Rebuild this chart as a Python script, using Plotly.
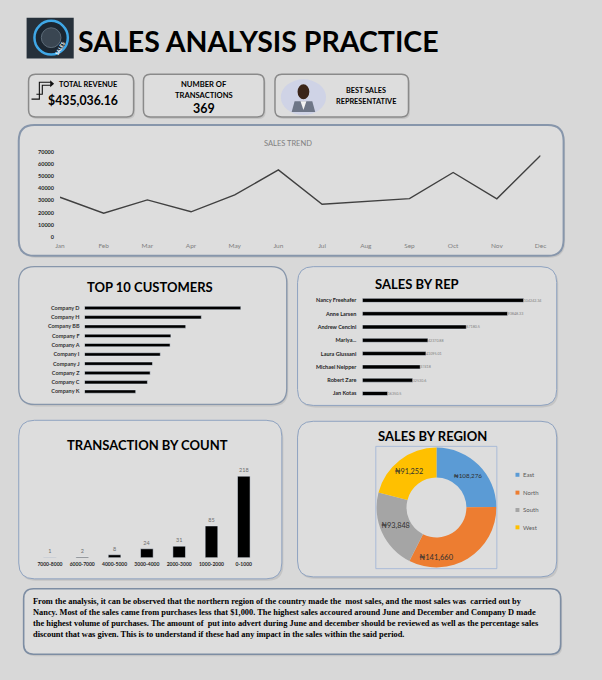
import plotly.graph_objects as go

W, H = 602, 680
BG = '#d8d8d8'
PANEL = '#dddddd'
FONT = 'Lato'

# ---- data ----
months = ['Jan', 'Feb', 'Mar', 'Apr', 'May', 'Jun', 'Jul', 'Aug', 'Sep', 'Oct', 'Nov', 'Dec']
monthly_sales = [32700, 19700, 30500, 20800, 34600, 55100, 27000, 29500, 31600, 53000, 31400, 66800]
trend_ticks = [0, 10000, 20000, 30000, 40000, 50000, 60000, 70000]

customers = ['Company D', 'Company H', 'Company BB', 'Company F', 'Company A',
             'Company I', 'Company J', 'Company Z', 'Company C', 'Company K']
customer_sales = [40000, 29900, 25900, 22100, 21900, 19400, 17400, 16800, 16100, 13100]

reps = ['Nancy Freehafer', 'Anne Larsen', 'Andrew Cencini', 'Mariya...',
        'Laura Giussani', 'Michael Neipper', 'Robert Zare', 'Jan Kotas']
rep_sales = [104242.34, 93848.33, 67180.5, 42370.88, 41095.01, 37418, 32530.6, 16350.5]

count_bins = ['7000-8000', '6000-7000', '4000-5000', '3000-4000', '2000-3000', '1000-2000', '0-1000']
count_values = [1, 2, 8, 24, 31, 85, 218]

regions = ['East', 'North', 'South', 'West']
region_sales = [108276, 141660, 93848, 91252]
region_colors = ['#5b9bd5', '#ed7d31', '#a5a5a5', '#ffc000']

total_revenue = '$435,036.16'
n_transactions = '369'

summary_lines = [
    'From the analysis, it can be observed that the northern region of the country made the  most sales, and the most sales was  carried out by',
    'Nancy. Most of the sales came from purchases less that $1,000. The highest sales accoured around June and December and Company D made',
    'the highest volume of purchases. The amount of  put into advert during June and december should be reviewed as well as the percentage sales',
    'discount that was given. This is to understand if these had any impact in the sales within the said period.',
]


# pixel -> paper helpers
def px(x):
    return x / W


def py(y):
    return 1 - y / H


def rrect_path(x0, y0, x1, y1, r):
    p = lambda x, y: f'{px(x):.5f},{py(y):.5f}'
    return (f'M {p(x0 + r, y0)} L {p(x1 - r, y0)} Q {p(x1, y0)} {p(x1, y0 + r)} '
            f'L {p(x1, y1 - r)} Q {p(x1, y1)} {p(x1 - r, y1)} '
            f'L {p(x0 + r, y1)} Q {p(x0, y1)} {p(x0, y1 - r)} '
            f'L {p(x0, y0 + r)} Q {p(x0, y0)} {p(x0 + r, y0)} Z')


shapes = []
annotations = []


def panel(x0, y0, x1, y1, r, border, lw):
    shapes.append(dict(type='path', path=rrect_path(x0 + 1.5, y0 + 2, x1 + 1.5, y1 + 2, r),
                       xref='paper', yref='paper', fillcolor='#b4b4b4', opacity=0.55,
                       line=dict(width=0), layer='below'))
    shapes.append(dict(type='path', path=rrect_path(x0, y0, x1, y1, r), xref='paper', yref='paper',
                       fillcolor=PANEL, line=dict(color=border, width=lw), layer='below'))


def label(x, y, text, size, color='#000000', bold=True, family=FONT, xanchor='center'):
    annotations.append(dict(x=px(x), y=py(y), xref='paper', yref='paper', text=text, showarrow=False,
                            xanchor=xanchor, yanchor='middle', align='left',
                            font=dict(family=family, size=size, color=color,
                                      weight='bold' if bold else 'normal')))


# ---- header ----
shapes.append(dict(type='rect', x0=px(22), x1=px(70), y0=py(56), y1=py(15), xref='paper', yref='paper',
                   fillcolor='#26303a', line=dict(width=0)))
shapes.append(dict(type='circle', x0=px(30), x1=px(64), y0=py(52), y1=py(18), xref='paper', yref='paper',
                   fillcolor='#1b2631', line=dict(color='#3fa7e6', width=2.5)))
shapes.append(dict(type='circle', x0=px(37), x1=px(57), y0=py(45), y1=py(25), xref='paper', yref='paper',
                   fillcolor='#3a4652', line=dict(color='#5c6b78', width=1)))
annotations.append(dict(x=px(47), y=py(35), xref='paper', yref='paper', text='SALES', showarrow=False,
                        textangle=-60, font=dict(family=FONT, size=5, color='white', weight='bold')))
label(72, 38, 'SALES ANALYSIS PRACTICE', 28.5, xanchor='left')

# KPI boxes
panel(24, 72, 131, 115, 7, '#8a8a8a', 1.5)
panel(141, 72, 264, 115, 7, '#8a8a8a', 1.5)
panel(275, 72, 411, 115, 7, '#8a8a8a', 1.5)

shapes.append(dict(type='path', xref='paper', yref='paper', line=dict(color='#111111', width=1.1),
                   path=f'M {px(27)},{py(97)} L {px(35)},{py(97)} L {px(35)},{py(80)} L {px(47)},{py(80)}'))
shapes.append(dict(type='path', xref='paper', yref='paper', line=dict(color='#111111', width=1.1),
                   path=f'M {px(32)},{py(92)} L {px(38)},{py(92)} L {px(38)},{py(83)} L {px(47)},{py(83)}'))
shapes.append(dict(type='path', xref='paper', yref='paper', fillcolor='#111111', line=dict(width=0),
                   path=f'M {px(46)},{py(78)} L {px(50)},{py(81.5)} L {px(46)},{py(85)} Z'))
label(84.5, 82, 'TOTAL REVENUE', 7.4)
label(79, 98.5, total_revenue, 12.3)

label(202.5, 82, 'NUMBER OF', 7.6)
label(202.5, 93, 'TRANSACTIONS', 7.6)
label(202.5, 106, n_transactions, 12.5)

shapes.append(dict(type='circle', x0=px(281), x1=px(327), y0=py(113), y1=py(77), xref='paper', yref='paper',
                   fillcolor='#cfd3e6', line=dict(width=0)))
shapes.append(dict(type='path', xref='paper', yref='paper', fillcolor='#6e7687', line=dict(width=0),
                   path=f'M {px(292)},{py(110)} L {px(295)},{py(99)} L {px(313)},{py(99)} L {px(316)},{py(110)} Z'))
shapes.append(dict(type='path', xref='paper', yref='paper', fillcolor='#f2f2f2', line=dict(width=0),
                   path=f'M {px(301)},{py(99)} L {px(307)},{py(99)} L {px(304)},{py(108)} Z'))
shapes.append(dict(type='circle', x0=px(298), x1=px(310), y0=py(97), y1=py(82), xref='paper', yref='paper',
                   fillcolor='#3b2519', line=dict(width=0)))
label(368, 88, 'BEST SALES', 7.3)
label(368, 99, 'REPRESENTATIVE', 7.3)

# ---- chart panels ----
panel(14, 123, 569, 255, 16, '#8796ab', 2)
panel(14, 266, 287, 405, 16, '#8796ab', 1.3)
panel(298, 266, 562, 406, 16, '#8ea2c0', 1)
panel(14, 421, 282, 581, 16, '#8ea2c0', 1)
panel(298, 422, 562, 579, 16, '#8ea2c0', 1)
panel(19, 591, 566, 657, 10, '#7d8da3', 1.6)

label(288, 142, 'SALES TREND', 7.5, color='#7f7f7f', bold=False)
label(148, 287, 'TOP 10 CUSTOMERS', 13)
label(420, 284, 'SALES BY REP', 13)
label(145, 446, 'TRANSACTION BY COUNT', 13)
label(435.5, 437, 'SALES BY REGION', 13)

# donut frame + manual legend
shapes.append(dict(type='rect', x0=px(377.7), x1=px(501), y0=py(570.7), y1=py(447.3), xref='paper', yref='paper',
                   line=dict(color='#9db3d6', width=0.8)))
legend_y = [476, 494, 511.5, 529]
for name, col, ly in zip(regions, region_colors, legend_y):
    shapes.append(dict(type='rect', x0=px(520), x1=px(524), y0=py(ly + 2), y1=py(ly - 2), xref='paper',
                       yref='paper', fillcolor=col, line=dict(width=0)))
    label(526, ly, name, 6, color='#595959', bold=False, xanchor='left')

# summary text (one block)
label(26, 620, '<br>'.join(summary_lines), 8.4, family='Liberation Serif', xanchor='left')

# ---- traces ----
fig = go.Figure()
fig.add_trace(go.Scatter(x=months, y=monthly_sales, mode='lines', line=dict(color='#404040', width=1.4),
                         xaxis='x', yaxis='y', showlegend=False, hoverinfo='skip'))
fig.add_trace(go.Bar(x=customer_sales, y=customers, orientation='h', marker_color='black', width=0.36,
                     xaxis='x2', yaxis='y2', showlegend=False))
fig.add_trace(go.Bar(x=rep_sales, y=reps, orientation='h', marker_color='black', width=0.3,
                     text=[f'{v:.2f}'.rstrip('0').rstrip('.') for v in rep_sales], textposition='outside',
                     textfont=dict(family=FONT, size=5.5, color='#808080'), cliponaxis=False,
                     xaxis='x3', yaxis='y3', showlegend=False))
fig.add_trace(go.Bar(x=count_bins, y=count_values, marker_color='black', width=0.39,
                     text=count_values, textposition='outside',
                     textfont=dict(family=FONT, size=5.5, color='#707070'), cliponaxis=False,
                     xaxis='x4', yaxis='y4', showlegend=False))
fig.add_trace(go.Pie(labels=regions, values=region_sales, hole=0.5, sort=False, direction='clockwise',
                     marker=dict(colors=region_colors, line=dict(width=0)),
                     texttemplate='₦%{value:,.0f}', textposition='inside', insidetextorientation='horizontal',
                     textfont=dict(family=FONT, size=7.5, color='#303030'),
                     domain=dict(x=[px(378.5), px(500.5)], y=[py(570), py(448)]), showlegend=False))

hidden = dict(showgrid=False, zeroline=False, showline=False, ticks='')
fig.update_layout(
    width=W, height=H, margin=dict(l=0, r=0, t=0, b=0),
    paper_bgcolor=BG, plot_bgcolor='rgba(0,0,0,0)',
    font=dict(family=FONT),
    shapes=shapes, annotations=annotations, showlegend=False,
    xaxis=dict(domain=[px(56), px(545.5)], type='category', **hidden,
               tickfont=dict(size=6.5, color='#808080'), ticklabelstandoff=3),
    yaxis=dict(domain=[py(236.3), py(150)], range=[0, 70000], tickvals=trend_ticks, tickformat='d', **hidden,
               tickfont=dict(size=5.5, color='#262626', weight='bold'), ticklabelstandoff=5),
    xaxis2=dict(domain=[px(81), px(280)], range=[0, 50000], visible=False, anchor='y2'),
    yaxis2=dict(domain=[py(396.7), py(303)], autorange='reversed', anchor='x2', **hidden,
                tickfont=dict(size=5.5, color='#333333', weight='bold'), ticklabelstandoff=4),
    xaxis3=dict(domain=[px(364), px(560)], range=[0, 124360], visible=False, anchor='y3'),
    yaxis3=dict(domain=[py(400.7), py(293.3)], autorange='reversed', anchor='x3', **hidden,
                tickfont=dict(size=5.5, color='#262626', weight='bold'), ticklabelstandoff=5),
    xaxis4=dict(domain=[px(29.3), px(259.7)], type='category', anchor='y4', **hidden,
                tickfont=dict(size=5, color='#262626', weight='bold'), ticklabelstandoff=2),
    yaxis4=dict(domain=[py(559.7), py(465.3)], range=[0, 250], visible=False, anchor='x4'),
)

fig.write_html('out.html', config={'displayModeBar': False},
               post_script="document.body.style.margin='0';document.body.style.overflow='hidden';")
